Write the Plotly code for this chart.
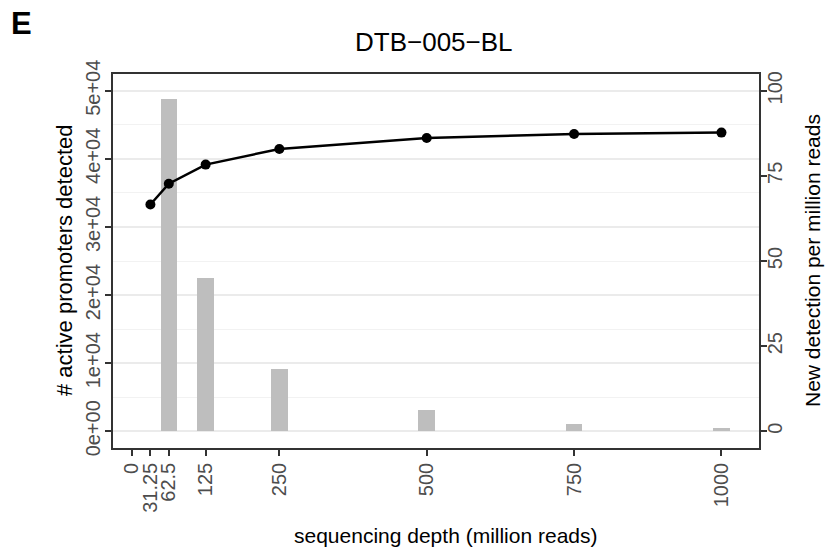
import plotly.graph_objects as go

# Sequencing depth (million reads)
depth_line = [31.25, 62.5, 125, 250, 500, 750, 1000]
promoters = [33300, 36350, 39150, 41450, 43050, 43650, 43850]

depth_bar = [62.5, 125, 250, 500, 750, 1000]
new_per_million = [97.6, 45.0, 18.2, 6.2, 2.1, 0.9]

x_ticks = [0, 31.25, 62.5, 125, 250, 500, 750, 1000]
x_ticklabels = ["0", "31.25", "62.5", "125", "250", "500", "750", "1000"]
left_ticks = [0, 10000, 20000, 30000, 40000, 50000]
left_ticklabels = ["0e+00", "1e+04", "2e+04", "3e+04", "4e+04", "5e+04"]
right_ticks = [0, 25, 50, 75, 100]
right_ticklabels = ["0", "25", "50", "75", "100"]

FONT = "Liberation Sans, Arial, Helvetica, sans-serif"
TICK_COL = "#4D4D4D"
AX_COL = "#333333"
TICK_SIZE = 20

W, H = 838, 547
ML, MR, MT, MB = 113, 79, 74, 99
PW, PH = W - ML - MR, H - MT - MB

LEFT_RANGE = [-2454, 52453]
RIGHT_SCALE = 500.0
RIGHT_RANGE = [LEFT_RANGE[0] / RIGHT_SCALE, LEFT_RANGE[1] / RIGHT_SCALE]
X_RANGE = [-32.2, 1063.7]


def px_x(px):
    return (px - ML) / PW


def px_y(py):
    return (H - MB - py) / PH


fig = go.Figure()

# bars: new detections per million reads (right axis)
fig.add_trace(go.Bar(
    x=depth_bar, y=new_per_million, width=28,
    marker=dict(color="#BEBEBE", line=dict(width=0)),
    xaxis="x", yaxis="y", showlegend=False, hoverinfo="x+y",
))

# line: active promoters detected (left axis)
fig.add_trace(go.Scatter(
    x=depth_line, y=promoters, mode="lines+markers",
    line=dict(color="black", width=2.5),
    marker=dict(color="black", size=10),
    xaxis="x", yaxis="y2", showlegend=False,
))

tickfont = dict(size=TICK_SIZE, color=TICK_COL, family=FONT)

fig.update_layout(
    width=W, height=H,
    margin=dict(l=ML, r=MR, t=MT, b=MB, pad=0),
    paper_bgcolor="white", plot_bgcolor="white",
    font=dict(family=FONT, color="black"),
    bargap=0,
    xaxis=dict(
        range=X_RANGE, tickmode="array", tickvals=x_ticks, ticktext=x_ticklabels,
        tickangle=-90, ticks="outside", ticklen=6, tickwidth=1.5, tickcolor=AX_COL,
        tickfont=tickfont,
        showgrid=False, zeroline=False,
        showline=True, linecolor=AX_COL, linewidth=1.5, mirror=True,
        ticklabelstandoff=-1,
    ),
    yaxis=dict(
        range=RIGHT_RANGE, side="right", tickmode="array",
        tickvals=right_ticks, ticktext=right_ticklabels, tickangle=-90,
        ticks="outside", ticklen=6, tickwidth=1.5, tickcolor=AX_COL,
        tickfont=tickfont,
        showgrid=False, zeroline=False,
        showline=True, linecolor=AX_COL, linewidth=1.5,
        ticklabelstandoff=-9,
    ),
    yaxis2=dict(
        range=LEFT_RANGE, side="left", overlaying="y", tickmode="array",
        tickvals=left_ticks, ticktext=left_ticklabels, tickangle=-90,
        ticks="outside", ticklen=6, tickwidth=1.5, tickcolor=AX_COL,
        tickfont=tickfont,
        showgrid=True, gridcolor="#EBEBEB", gridwidth=1.6,
        minor=dict(dtick=5000, tick0=0, showgrid=True, gridcolor="#F2F2F2", gridwidth=1),
        zeroline=False,
        showline=True, linecolor=AX_COL, linewidth=1.5,
        ticklabelstandoff=-3,
    ),
    annotations=[
        dict(text="DTB\u2212005\u2212BL", xref="paper", yref="paper",
             x=px_x(434), y=px_y(42), xanchor="center", yanchor="middle",
             showarrow=False, font=dict(size=26, color="black", family=FONT)),
        dict(text="E", xref="paper", yref="paper",
             x=px_x(21), y=px_y(24), xanchor="center", yanchor="middle",
             showarrow=False, font=dict(size=31, color="black", family=FONT, weight="bold")),
        dict(text="# active promoters detected", xref="paper", yref="paper",
             x=px_x(64), y=0.5, xanchor="center", yanchor="middle", textangle=-90,
             showarrow=False, font=dict(size=22, color="black", family=FONT)),
        dict(text="New detection per million reads", xref="paper", yref="paper",
             x=px_x(812), y=0.5, xanchor="center", yanchor="middle", textangle=-90,
             showarrow=False, font=dict(size=21, color="black", family=FONT)),
        dict(text="sequencing depth (million reads)", xref="paper", yref="paper",
             x=px_x(446), y=px_y(535), xanchor="center", yanchor="middle",
             showarrow=False, font=dict(size=21, color="black", family=FONT)),
    ],
)

fig.write_html("out.html")
